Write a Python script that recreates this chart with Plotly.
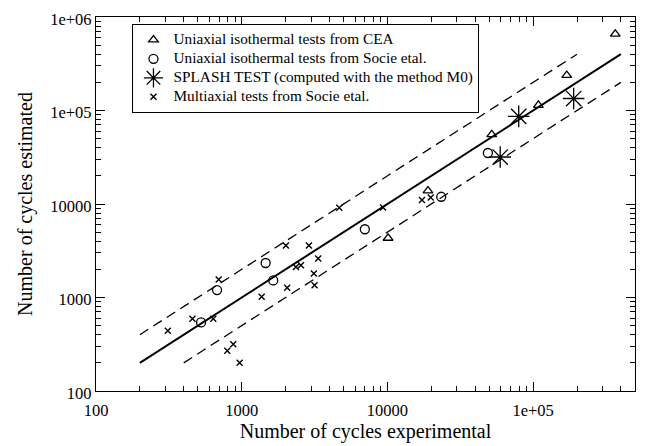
import plotly.graph_objects as go

# --- data ---
cea_x = [10100, 18970, 52000, 108700, 170000, 366000]
cea_y = [4316, 13840, 55400, 114000, 237700, 658000]

socie_uni_x = [526, 677, 1459, 1645, 7000, 23400, 48900]
socie_uni_y = [541, 1202, 2339, 1524, 5370, 11950, 35100]

splash_x = [59400, 79600, 189700]
splash_y = [31800, 86500, 134300]

multi_x = [311, 459, 638, 695, 796, 875, 968, 1371, 2051, 2010, 2891, 2355,
           2549, 3350, 3127, 3162, 4670, 9330, 17260, 19820]
multi_y = [441, 591, 591, 1560, 270, 316, 200, 1019, 1271, 3605, 3605, 2123,
           2213, 2606, 1807, 1349, 9140, 9200, 11020, 11750]

fit_x = [200, 400000]
fit_y = [200, 400000]
upper_x = [200, 200000]
upper_y = [400, 400000]
lower_x = [400, 400000]
lower_y = [200, 200000]

x_tickvals = [100, 1000, 10000, 100000]
x_ticktext = ["100", "1000", "10000", "1e+05"]
y_tickvals = [100, 1000, 10000, 100000, 1000000]
y_ticktext = ["100", "1000", "10000", "1e+05", "1e+06"]

x_minor = [k * 10 ** n for n in range(2, 6) for k in range(2, 10) if k * 10 ** n <= 500000]
y_minor = [k * 10 ** n for n in range(2, 6) for k in range(2, 10)]

names = ["Uniaxial isothermal tests from CEA",
         "Uniaxial isothermal tests from Socie etal.",
         "SPLASH TEST (computed with the method M0)",
         "Multiaxial tests from Socie etal."]

FONT = "Liberation Serif, Times New Roman, serif"
X_RANGE = [2, 5.69897]
Y_RANGE = [2, 6.0000001]


def legend_name(s):
    return '<span style="font-size:15.3px">' + s + '</span>'


def all_ticks(major_vals, major_text, minor_vals):
    vals = list(major_vals) + list(minor_vals)
    text = list(major_text) + [""] * len(minor_vals)
    return vals, text


fig = go.Figure()

fig.add_trace(go.Scatter(x=fit_x, y=fit_y, mode="lines",
                         line=dict(color="black", width=2), showlegend=False))
fig.add_trace(go.Scatter(x=upper_x, y=upper_y, mode="lines",
                         line=dict(color="black", width=1.3, dash="10px,6px"), showlegend=False))
fig.add_trace(go.Scatter(x=lower_x, y=lower_y, mode="lines",
                         line=dict(color="black", width=1.3, dash="10px,6px"), showlegend=False))

fig.add_trace(go.Scatter(x=cea_x, y=cea_y, mode="markers", name=legend_name(names[0]),
                         marker=dict(symbol="triangle-up-open", size=8.5, color="black",
                                     line=dict(width=1.3, color="black"))))
fig.add_trace(go.Scatter(x=socie_uni_x, y=socie_uni_y, mode="markers", name=legend_name(names[1]),
                         marker=dict(symbol="circle-open", size=9, color="black",
                                     line=dict(width=1.3, color="black"))))
fig.add_trace(go.Scatter(x=splash_x, y=splash_y, mode="markers", name=legend_name(names[2]),
                         marker=dict(symbol="asterisk-open", size=18, color="black",
                                     line=dict(width=1.3, color="black"))))
fig.add_trace(go.Scatter(x=multi_x, y=multi_y, mode="markers", name=legend_name(names[3]),
                         marker=dict(symbol="x-thin-open", size=6, color="black",
                                     line=dict(width=1.4, color="black"))))

# empty trace so the overlay axes (long decade ticks) exist
fig.add_trace(go.Scatter(x=[], y=[], xaxis="x2", yaxis="y2", showlegend=False,
                         hoverinfo="skip"))

xv, xt = all_ticks(x_tickvals, x_ticktext, x_minor)
yv, yt = all_ticks(y_tickvals, y_ticktext, y_minor)

base = dict(type="log", showgrid=False, zeroline=False, tickcolor="black",
            tickwidth=1.1, ticks="inside", mirror="allticks", automargin=False)

fig.update_layout(
    width=644, height=438,
    margin=dict(l=88, r=17, t=9, b=55, autoexpand=False),
    paper_bgcolor="white", plot_bgcolor="white",
    font=dict(family=FONT, color="black"),
    xaxis=dict(**base, range=X_RANGE, tickmode="array", tickvals=xv, ticktext=xt,
               ticklen=4.5, showline=True, linecolor="black", linewidth=1.2,
               ticklabeloverflow="allow", ticklabelstandoff=4,
               tickfont=dict(family=FONT, size=16.5, color="black"),
               title=dict(text="Number of cycles experimental",
                          font=dict(family=FONT, size=20, color="black"), standoff=5)),
    yaxis=dict(**base, range=Y_RANGE, tickmode="array", tickvals=yv, ticktext=yt,
               ticklen=4.5, showline=True, linecolor="black", linewidth=1.2,
               ticklabeloverflow="allow", ticklabelshift=2,
               tickfont=dict(family=FONT, size=16.5, color="black"),
               title=dict(text="Number of cycles estimated",
                          font=dict(family=FONT, size=20, color="black"), standoff=12)),
    xaxis2=dict(**base, range=X_RANGE, overlaying="x", anchor="y2", side="bottom",
                tickmode="array", tickvals=x_tickvals, showticklabels=False,
                ticklen=9, showline=False),
    yaxis2=dict(**base, range=Y_RANGE, overlaying="y", anchor="x2", side="left",
                tickmode="array", tickvals=y_tickvals, showticklabels=False,
                ticklen=9, showline=False),
    legend=dict(x=0.0673, y=0.981, xanchor="left", yanchor="top",
                bgcolor="white", bordercolor="black", borderwidth=1.2,
                font=dict(family=FONT, size=10, color="black"),
                tracegroupgap=0, itemsizing="trace"),
)

fig.write_html("out.html")
